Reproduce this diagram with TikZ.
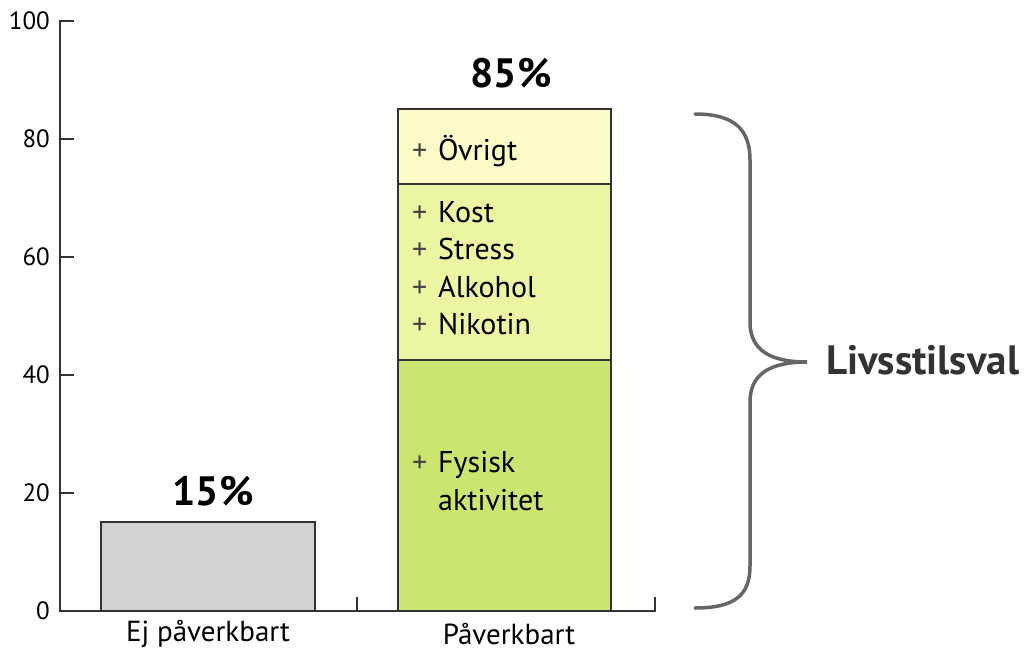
\documentclass[tikz,border=0pt]{standalone}
\usepackage{fontspec}
\setmainfont{PT Sans}
\definecolor{axisc}{HTML}{333333}
\definecolor{greybar}{HTML}{D2D2D2}
\definecolor{ovr}{HTML}{FDFBC8}
\definecolor{mid}{HTML}{EDF5A2}
\definecolor{low}{HTML}{CBE670}
\definecolor{plusc}{HTML}{444444}
\definecolor{bracec}{HTML}{666666}
\begin{document}
\begin{tikzpicture}[x=1pt,y=-1pt,
  axisline/.style={draw=axisc,line width=1.8pt},
  barbox/.style={draw=axisc,line width=1.2pt},
  ticklab/.style={anchor=east,inner sep=0pt,font=\fontsize{25}{29}\selectfont},
  catlab/.style={inner sep=0pt,font=\fontsize{29}{33}\selectfont},
  pctlab/.style={inner sep=0pt,font=\fontsize{41}{44}\selectfont\bfseries},
  itemlab/.style={anchor=west,inner sep=0pt,font=\fontsize{30}{34}\selectfont},
]
\useasboundingbox (0,0) rectangle (1030,652);
% bars
\path[barbox,fill=greybar] (101,522) rectangle (315,611);
\path[barbox,fill=low] (398,360) rectangle (611,611);
\path[barbox,fill=mid] (398,184) rectangle (611,360);
\path[barbox,fill=ovr] (398,109) rectangle (611,184);
% axes
\draw[axisline] (60,20) -- (60,611) -- (655,611) -- (655,597);
\draw[axisline] (357,611) -- (357,597);
\foreach \v in {0,20,40,60,80,100}{
  \draw[axisline] (60,{611-5.9*\v}) -- (74,{611-5.9*\v});
  \node[ticklab] (t\v) at (50,{611-5.9*\v}) {\v};
}
% category labels
\node[catlab] (c1) at (208,634) {Ej påverkbart};
\node[catlab] (c2) at (509,634) {Påverkbart};
% percentages
\node[pctlab] (p1) at (213,491) {15\%};
\node[pctlab] (p2) at (511,73) {85\%};
% items
\newcommand{\pl}{\makebox[26pt][l]{\textcolor{plusc}{+}}}
\node[itemlab] (i0) at (412,151) {\pl Övrigt};
\node[itemlab] (i1) at (412,212) {\pl Kost};
\node[itemlab] (i2) at (412,249.5) {\pl Stress};
\node[itemlab] (i3) at (412,287) {\pl Alkohol};
\node[itemlab] (i4) at (412,324.5) {\pl Nikotin};
\node[itemlab] (i5) at (412,465) {\pl Fysisk};
\node[itemlab] (i6) at (438,500) {aktivitet};
% brace
\draw[bracec,line width=3.5pt,line cap=round]
  (695,114) .. controls (735,114) and (750,130) .. (750,160)
  -- (750,322) .. controls (750,350) and (770,362) .. (807,362)
  .. controls (770,362) and (750,374) .. (750,402)
  -- (750,566) .. controls (750,595) and (735,608) .. (695,608);
\node[inner sep=0pt,anchor=west,font=\fontsize{41}{44}\selectfont\bfseries,text=axisc] (lv) at (826,360) {Livsstilsval};
\end{tikzpicture}
\end{document}
